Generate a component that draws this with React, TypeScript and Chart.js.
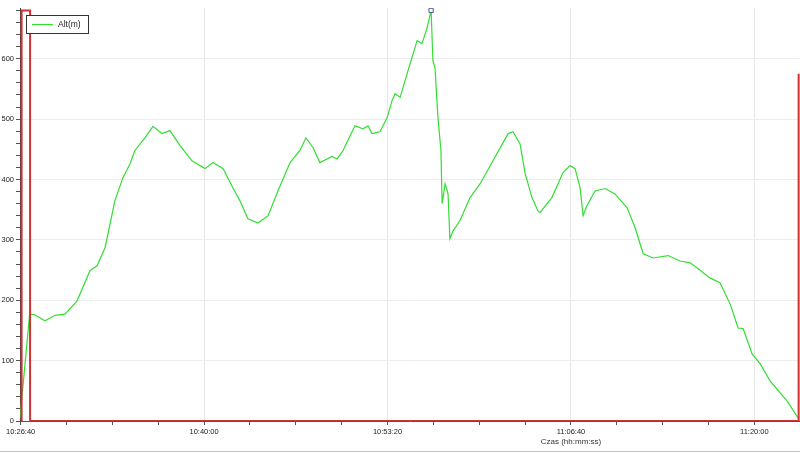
import React, { useEffect, useRef } from "react";
import { Chart, registerables } from "chart.js";

Chart.register(...registerables);

// Time in seconds from 10:26:40
const altTimes = [
  -3, 39, 62, 106, 150, 193, 246, 302, 333, 368, 411, 446, 477, 498, 542, 577, 616, 651, 695, 747,
  804, 839, 883, 926, 956, 991, 1035, 1079, 1122, 1175, 1218, 1244, 1275, 1305, 1358, 1380, 1406,
  1458, 1493, 1515, 1532, 1567, 1598, 1620, 1633, 1655, 1689, 1729, 1750, 1772, 1790, 1798, 1807,
  1820, 1833, 1838, 1851, 1864, 1872, 1886, 1916, 1960, 2004, 2060, 2126, 2147, 2178, 2200, 2230,
  2256, 2265, 2317, 2365, 2396, 2418, 2440, 2453, 2470, 2505, 2549, 2592, 2645, 2680, 2715, 2758,
  2824, 2876, 2920, 2955, 3006, 3050, 3094, 3129, 3151, 3190, 3225, 3269, 3343, 3391,
];
const altValues = [
  5, 177, 176, 166, 175, 177, 199, 249, 257, 287, 365, 403, 426, 448, 469, 488, 476, 481, 456, 431,
  418, 428, 418, 386, 365, 335, 328, 340, 381, 428, 448, 469, 453, 428, 438, 434, 448,
  489, 484, 489, 476, 479, 502, 531, 542, 536, 580, 630, 625, 650, 680, 597, 585,
  502, 448, 360, 393, 376, 302, 315, 332, 370, 393, 431, 476, 479, 459, 410, 370,
  348, 345, 370, 411, 423, 418, 386, 340, 357, 381, 385, 376, 353, 320, 277, 270,
  274, 265, 262, 252, 237, 229, 194, 154, 153, 111, 95, 66, 33, 5,
];

const redTimes = [4, 4, 41, 41, 3393, 3393];
const redValues = [0, 680, 680, 0, 0, 575];

const xTickValues = [0, 200, 400, 600, 800, 1000, 1200, 1400, 1600, 1800, 2000, 2200, 2400, 2600, 2800, 3000, 3200];
const xMajorTicks = [0, 800, 1600, 2400, 3200];
const xTickLabels = ["10:26:40", "10:40:00", "10:53:20", "11:06:40", "11:20:00"];

const seriesLabel = "Alt(m)";
const xTitle = "Czas (hh:mm:ss)";

export default function App() {
  const ref = useRef<HTMLCanvasElement>(null);

  useEffect(() => {
    document.body.style.margin = "0";
    const canvas = ref.current!;
    const peakIdx = altValues.indexOf(Math.max(...altValues));

    const overlay = {
      id: "overlay",
      afterDraw(chart: any) {
        const ctx = chart.ctx;
        const xs = chart.scales.x;
        ctx.save();
        // legend box
        ctx.fillStyle = "#ffffff";
        ctx.fillRect(26.5, 15.5, 62, 18);
        ctx.strokeStyle = "#333333";
        ctx.lineWidth = 1;
        ctx.strokeRect(26.5, 15.5, 62, 18);
        ctx.strokeStyle = "#33dd33";
        ctx.lineWidth = 1.2;
        ctx.beginPath();
        ctx.moveTo(32, 24.5);
        ctx.lineTo(53, 24.5);
        ctx.stroke();
        ctx.fillStyle = "#222222";
        ctx.font = "8.5px 'Liberation Sans', Arial, sans-serif";
        ctx.textBaseline = "middle";
        ctx.textAlign = "left";
        ctx.fillText(seriesLabel, 58, 25);
        // axis title
        ctx.font = "8px 'Liberation Sans', Arial, sans-serif";
        ctx.textAlign = "center";
        ctx.fillStyle = "#333333";
        ctx.fillText(xTitle, xs.getPixelForValue(2400), 442);
        // bottom frame line
        ctx.strokeStyle = "#c4c4c4";
        ctx.lineWidth = 1;
        ctx.beginPath();
        ctx.moveTo(0, 451.5);
        ctx.lineTo(800, 451.5);
        ctx.stroke();
        ctx.restore();
      },
    };

    const tickFont = { family: "'Liberation Sans', Arial, sans-serif", size: 7.5 };

    const chart = new Chart(canvas, {
      type: "line",
      data: {
        datasets: [
          {
            label: "red",
            data: redTimes.map((t, i) => ({ x: t, y: redValues[i] })),
            borderColor: "#cc3333",
            borderWidth: 2,
            pointRadius: 0,
            tension: 0,
          },
          {
            label: seriesLabel,
            data: altTimes.map((t, i) => ({ x: t, y: altValues[i] })),
            borderColor: "#33dd33",
            borderWidth: 1.2,
            pointStyle: "rect",
            pointRadius: (c: any) => (c.dataIndex === peakIdx ? 3 : 0),
            pointBorderColor: "#4a5a90",
            pointBackgroundColor: "#ffffff",
            pointBorderWidth: 1,
            tension: 0,
          },
        ],
      },
      options: {
        animation: false,
        responsive: false,
        devicePixelRatio: 1,
        layout: { padding: { top: 8, left: 0, right: 0, bottom: 0 } },
        plugins: { legend: { display: false }, tooltip: { enabled: false } },
        scales: {
          x: {
            type: "linear",
            min: -3,
            max: 3399,
            afterBuildTicks: (s: any) => {
              s.ticks = xTickValues.map((v) => ({ value: v }));
            },
            afterFit: (s: any) => {
              s.height = 33;
            },
            ticks: {
              autoSkip: false,
              maxRotation: 0,
              padding: 2,
              color: "#222222",
              font: tickFont,
              callback: (v: any) => {
                const i = xMajorTicks.indexOf(Math.round(Number(v)));
                return i >= 0 ? xTickLabels[i] : "";
              },
            },
            grid: {
              color: (c: any) =>
                c.tick && xMajorTicks.includes(c.tick.value) && c.tick.value !== 0 ? "#e6e6e6" : "rgba(0,0,0,0)",
              tickColor: "#555555",
              tickLength: 4,
              drawTicks: true,
            },
            border: { color: "#555555", width: 1 },
          },
          y: {
            min: 0,
            max: 684,
            afterFit: (s: any) => {
              s.width = 20;
            },
            ticks: {
              stepSize: 20,
              includeBounds: false,
              autoSkip: false,
              padding: 2,
              color: "#222222",
              font: tickFont,
              callback: (v: any) => (Number(v) % 100 === 0 ? String(v) : ""),
            },
            grid: {
              color: (c: any) =>
                c.tick && c.tick.value % 100 === 0 && c.tick.value !== 0 ? "#ececec" : "rgba(0,0,0,0)",
              tickColor: "#555555",
              tickLength: 4,
            },
            border: { color: "#444444", width: 1 },
          },
        },
      },
      plugins: [overlay],
    });
    return () => chart.destroy();
  }, []);

  return (
    <div style={{ width: 800, height: 454, background: "#fff" }}>
      <canvas ref={ref} width={800} height={454} style={{ display: "block" }} />
    </div>
  );
}
